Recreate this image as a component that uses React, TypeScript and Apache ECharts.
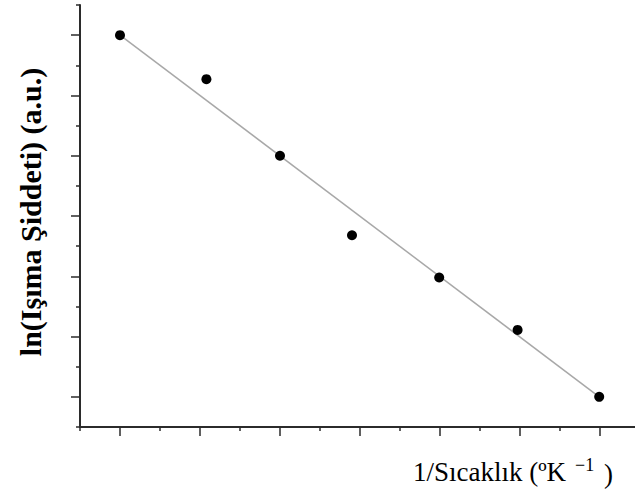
import React, { useEffect, useRef } from "react";
import * as echarts from "echarts";

// Measured points: x = 1/T (arbitrary units), y = ln(intensity) (a.u.)
const inverseTemp = [0.5, 1.58, 2.5, 3.4, 4.49, 5.47, 6.49];
const lnIntensity = [6.5, 5.77, 4.5, 3.18, 2.48, 1.61, 0.5];

// Linear fit end points
const fitX = [0.5, 6.49];
const fitY = [6.5, 0.5];

const xLabel = "1/Sıcaklık (ºK";
const xLabelSup = "−1";
const xLabelClose = ")";
const yLabel = "ln(Işıma Şiddeti) (a.u.)";

const AXIS_COLOR = "#2b2b2b";
const SERIF = "Liberation Serif";

export default function App() {
  const ref = useRef<HTMLDivElement>(null);

  useEffect(() => {
    if (!ref.current) return;
    const chart = echarts.init(ref.current, undefined, { renderer: "svg" });

    const axisCommon = {
      type: "value" as const,
      interval: 1,
      axisLine: { show: true, onZero: false, lineStyle: { color: AXIS_COLOR, width: 2 } },
      axisTick: { show: true, inside: false, length: 4, lineStyle: { color: AXIS_COLOR, width: 1.5 } },
      minorTick: { show: true, splitNumber: 2, length: 9, lineStyle: { color: AXIS_COLOR, width: 1.5 } },
      axisLabel: { show: false },
      splitLine: { show: false },
      minorSplitLine: { show: false },
    };

    chart.setOption({
      animation: false,
      backgroundColor: "#ffffff",
      grid: { left: 80, right: 0, top: 5, bottom: 72, containLabel: false },
      xAxis: { ...axisCommon, min: 0, max: 7 },
      yAxis: { ...axisCommon, min: 0, max: 7 },
      series: [
        {
          type: "line",
          data: fitX.map((x, i) => [x, fitY[i]]),
          showSymbol: false,
          symbol: "none",
          lineStyle: { color: "#a8a8a8", width: 1.5 },
          z: 1,
        },
        {
          type: "scatter",
          data: inverseTemp.map((x, i) => [x, lnIntensity[i]]),
          symbol: "circle",
          symbolSize: 10,
          itemStyle: { color: "#000000", opacity: 1 },
          z: 2,
        },
      ],
      graphic: [
        {
          type: "text",
          x: 30,
          y: 212,
          rotation: Math.PI / 2,
          style: {
            text: yLabel,
            fontFamily: SERIF,
            fontWeight: "bold",
            fontSize: 30,
            fill: "#000",
            align: "center",
            verticalAlign: "middle",
          },
        },
        {
          type: "text",
          x: 413,
          y: 472,
          style: {
            text: xLabel,
            fontFamily: SERIF,
            fontSize: 27,
            fill: "#000",
            align: "left",
            verticalAlign: "middle",
          },
        },
        {
          type: "text",
          x: 575,
          y: 465,
          style: {
            text: xLabelSup,
            fontFamily: SERIF,
            fontSize: 18,
            fill: "#000",
            align: "left",
            verticalAlign: "middle",
          },
        },
        {
          type: "text",
          x: 604,
          y: 474,
          style: {
            text: xLabelClose,
            fontFamily: SERIF,
            fontSize: 27,
            fill: "#000",
            align: "left",
            verticalAlign: "middle",
          },
        },
      ],
    });

    return () => chart.dispose();
  }, []);

  // The plot is five pixels wider than the frame so the x axis runs off the right edge.
  return (
    <div style={{ position: "fixed", left: 0, top: 0, width: 635, height: 499, overflow: "hidden", background: "#fff" }}>
      <div ref={ref} style={{ width: 640, height: 499 }} />
    </div>
  );
}
